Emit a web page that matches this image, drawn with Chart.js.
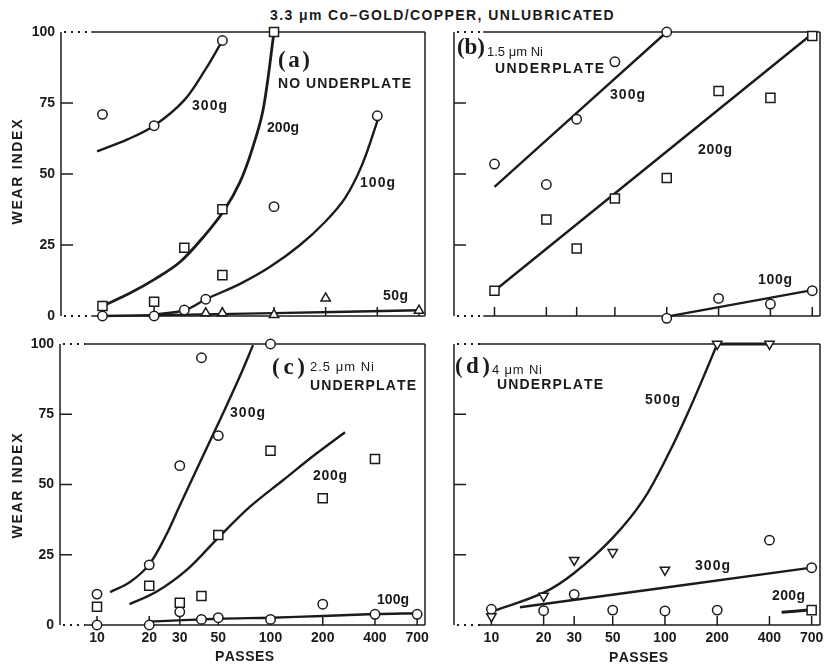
<!DOCTYPE html>
<html>
<head>
<meta charset="utf-8">
<script src="https://cdn.jsdelivr.net/npm/chart.js@4.4.1/dist/chart.umd.min.js"></script>
<style>
  html, body { margin: 0; padding: 0; background: #fff; }
  #wrap { position: relative; width: 833px; height: 665px; overflow: hidden; background: #fff; }
  #wrap canvas { position: absolute; }
  #title {
    position: absolute; left: 270px; top: 7px; white-space: nowrap;
    font: bold 14px 'Liberation Sans', Arial, sans-serif; letter-spacing: 1.4px; color: #1a1a1a;
  }
</style>
</head>
<body>
<div id="wrap">
  <div id="title">3.3 μm Co–GOLD/COPPER, UNLUBRICATED</div>
  <canvas id="pa" width="440" height="330" style="left:0;top:0"></canvas>
  <canvas id="pb" width="393" height="330" style="left:440px;top:0"></canvas>
  <canvas id="pc" width="440" height="335" style="left:0;top:330px"></canvas>
  <canvas id="pd" width="393" height="335" style="left:440px;top:330px"></canvas>
</div>
<script>
// ---- axis ticks ----
const passTicks = [10, 20, 30, 50, 100, 200, 400, 700];
const wearTicks = [0, 25, 50, 75, 100];

// ---- (a) no underplate ----
const aPass300 = [10, 20, 50];
const aWear300 = [71, 67, 97];
const aFitPass300 = [9.3, 14, 20, 30, 40, 50];
const aFitWear300 = [58, 62.2, 67, 76, 87, 97];

const aPass200 = [10, 20, 30, 50, 50, 100];
const aWear200 = [3.5, 5, 24, 37.6, 14.4, 100];
const aFitPass200 = [10, 14.5, 20.2, 28.3, 39.6, 51.8, 63.4, 74.4, 86.3, 100];
const aFitWear200 = [3.5, 8.1, 13, 19, 28.5, 37.7, 47.2, 58.5, 72.5, 100];

const aPass100 = [10, 20, 30, 40, 100, 400];
const aWear100 = [0, 0, 2.1, 5.9, 38.5, 70.5];
const aFitPass100 = [19.5, 30.3, 40.1, 63.4, 94.9, 141.8, 198.3, 259.4, 326, 409.6];
const aFitWear100 = [0.5, 2.1, 5.9, 11.3, 17.3, 25, 33.1, 41.5, 53.2, 70.4];

const aPass50 = [40, 50, 100, 200, 700];
const aWear50 = [1, 1, 0.4, 6.2, 1.9];
const aFitPass50 = [10, 100, 700];
const aFitWear50 = [0, 1, 2];

// ---- (b) 1.5 um Ni ----
const bPass300 = [10, 20, 30, 50, 100];
const bWear300 = [53.5, 46.3, 69.3, 89.5, 100];
const bFitPass300 = [10, 100];
const bFitWear300 = [45.5, 100];

const bPass200 = [10, 20, 30, 50, 100, 200, 400, 700];
const bWear200 = [8.9, 34, 23.8, 41.4, 48.6, 79.2, 76.8, 98.6];
const bFitPass200 = [10, 700];
const bFitWear200 = [8.9, 99.4];

const bPass100 = [100, 200, 400, 700];
const bWear100 = [-0.8, 6.2, 4.2, 8.9];
const bFitPass100 = [100, 700];
const bFitWear100 = [-0.2, 9.1];

// ---- (c) 2.5 um Ni ----
const cPass300 = [10, 20, 30, 40, 50, 100];
const cWear300 = [11, 21.4, 56.7, 95.1, 67.4, 100];
const cFitPass300 = [11.9, 15.5, 19.9, 24.7, 30.1, 36.7, 44.8, 54.7, 66.7, 79.3];
const cFitWear300 = [11.7, 15.3, 21.4, 31.3, 42.7, 54.1, 65.5, 76.9, 88.6, 99.6];

const cPass200 = [10, 20, 30, 40, 50, 100, 200, 400];
const cWear200 = [6.5, 14, 7.9, 10.3, 32, 62, 45.1, 59.1];
const cFitPass200 = [15.4, 22, 32.9, 49, 76.2, 118.5, 184.6, 268.7];
const cFitWear200 = [7.4, 11.8, 19.6, 30.5, 42.1, 51.6, 61.1, 68.6];

const cPass100 = [10, 20, 30, 40, 50, 100, 200, 400, 700];
const cWear100 = [0, 0, 4.7, 2, 2.6, 2, 7.4, 3.8, 3.8];
const cFitPass100 = [20, 50, 100, 200, 400, 700];
const cFitWear100 = [1.2, 2.2, 2.6, 3.2, 3.9, 4.2];

// ---- (d) 4 um Ni ----
const dPass500 = [10, 20, 30, 50, 100, 200, 400];
const dWear500 = [3, 10.3, 23.1, 25.9, 19.6, 100, 100];
const dFitPass500 = [10, 20, 30, 50, 75, 107, 139, 174, 200];
const dFitWear500 = [4.7, 11.5, 18.5, 31, 44.5, 62, 77, 91, 100];
const dTopPass500 = [200, 400];
const dTopWear500 = [100, 100];

const dPass300 = [10, 20, 30, 50, 100, 200, 400, 700];
const dWear300 = [5.6, 5.1, 10.9, 5.3, 5, 5.3, 30.2, 20.4];
const dFitPass300 = [14.6, 700];
const dFitWear300 = [6.3, 20.4];

const dPass200 = [700];
const dWear200 = [5.3];
const dFitPass200 = [470, 670];
const dFitWear200 = [4.5, 5.3];

// ---- styling ----
const INK = '#1b1b1b';
const SANS = "'Liberation Sans', Arial, sans-serif";
const SERIF = "'Liberation Serif', 'DejaVu Serif', serif";
const F_LAB = 'bold 14px ' + SANS;
const F_SUB = '13px ' + SANS;
const F_TAG = 'bold 23px ' + SERIF;
const F_AX = 'bold 14px ' + SANS;

const toPts = (xs, ys) => xs.map((x, i) => ({ x, y: ys[i] }));

function marks(xs, ys, style, rot) {
  const r = style === 'rect' ? 6.4 : style === 'triangle' ? 5.4 : 4.7;
  return {
    data: toPts(xs, ys), showLine: false, pointStyle: style, rotation: rot || 0,
    pointRadius: r, pointBorderWidth: 1.5, pointBorderColor: INK,
    pointBackgroundColor: '#fff', clip: false, order: 0
  };
}
function fit(xs, ys, w) {
  return {
    data: toPts(xs, ys), showLine: true, pointRadius: 0, borderColor: INK,
    borderWidth: w || 2.4, tension: 0.35, clip: false, order: 1
  };
}

// text helper: spreads a string over a given width
function spreadText(ctx, s, x, y, w, font) {
  ctx.font = font;
  const chars = [...s];
  const total = ctx.measureText(s).width;
  const gap = chars.length > 1 ? (w - total) / (chars.length - 1) : 0;
  let cx = x;
  for (const ch of chars) {
    ctx.fillText(ch, cx, y);
    cx += ctx.measureText(ch).width + gap;
  }
}

// frame, inward ticks and panel captions
const framePlugin = {
  id: 'frame',
  beforeDatasetsDraw(chart, args, o) {
    const { ctx, chartArea: { left, top, right, bottom }, scales: { x, y } } = chart;
    const seg = (x1, y1, x2, y2) => { ctx.beginPath(); ctx.moveTo(x1, y1); ctx.lineTo(x2, y2); ctx.stroke(); };
    ctx.save();
    ctx.strokeStyle = INK;
    ctx.lineWidth = 1.5;
    const xd = x.getPixelForValue(o.dotTo);
    seg(left, top, left, bottom);
    seg(right, top, right, bottom);
    seg(xd, top, right, top);
    seg(xd, bottom, right, bottom);
    ctx.setLineDash([2, 5]);
    ctx.lineWidth = 2;
    seg(left + 3, top, xd, top);
    seg(left + 3, bottom, xd, bottom);
    ctx.setLineDash([]);
    ctx.lineWidth = 1.5;
    passTicks.forEach(v => { const px = x.getPixelForValue(v); seg(px, bottom, px, bottom - 9); });
    wearTicks.slice(1, -1).forEach(v => { const py = y.getPixelForValue(v); seg(left, py, left + 12, py); });
    ctx.restore();
  },
  afterDraw(chart, args, o) {
    const ctx = chart.ctx;
    const [ox, oy] = o.offset;
    ctx.save();
    ctx.fillStyle = INK;
    ctx.textBaseline = 'middle';
    ctx.textAlign = 'left';
    for (const t of o.texts) {
      const font = t.f || F_LAB;
      if (t.rot) {
        ctx.save();
        ctx.translate(t.x - ox, t.y - oy);
        ctx.rotate(-Math.PI / 2);
        spreadText(ctx, t.t, -t.w / 2, 0, t.w, font);
        ctx.restore();
      } else {
        const lx = t.c ? t.x - t.w / 2 : t.x;
        spreadText(ctx, t.t, lx - ox, t.y - oy, t.w, font);
      }
    }
    ctx.restore();
  }
};

function panel(id, box, area, xr, showX, showY, datasets, texts) {
  const [bl, bt, bw, bh] = box;
  const [al, at, ar, ab] = area;
  return new Chart(document.getElementById(id), {
    type: 'scatter',
    data: { datasets },
    options: {
      responsive: false, animation: false, events: [],
      layout: { padding: { left: 0, top: at - bt, right: bl + bw - ar, bottom: 0 } },
      scales: {
        x: {
          type: 'logarithmic', min: xr[0], max: xr[1], position: 'bottom',
          grid: { display: false, drawTicks: false }, border: { display: false },
          afterBuildTicks: s => { s.ticks = passTicks.map(v => ({ value: v })); },
          afterFit: s => { s.height = bt + bh - ab; s.paddingLeft = 0; s.paddingRight = 0; },
          ticks: {
            display: showX, autoSkip: false, maxRotation: 0, minRotation: 0, padding: 5,
            color: INK, font: { family: SANS, size: 14, weight: 'bold' },
            callback: v => String(v)
          }
        },
        y: {
          min: 0, max: 100, position: 'left',
          grid: { display: false, drawTicks: false }, border: { display: false },
          afterBuildTicks: s => { s.ticks = wearTicks.map(v => ({ value: v })); },
          afterFit: s => { s.width = al - bl; s.paddingTop = 0; s.paddingBottom = 0; },
          ticks: {
            display: showY, padding: 6, color: INK,
            font: { family: SANS, size: 14, weight: 'bold' }
          }
        }
      },
      plugins: {
        legend: { display: false }, tooltip: { enabled: false },
        frame: { dotTo: 8.6, offset: [bl, bt], texts }
      }
    },
    plugins: [framePlugin]
  });
}

panel('pa', [0, 0, 440, 330], [61, 32, 425, 316], [5.73, 759], false, true, [
  marks(aPass300, aWear300, 'circle'),
  marks(aPass200, aWear200, 'rect'),
  marks(aPass100, aWear100, 'circle'),
  marks(aPass50, aWear50, 'triangle'),
  fit(aFitPass300, aFitWear300),
  fit(aFitPass200, aFitWear200, 2.8),
  fit(aFitPass100, aFitWear100),
  fit(aFitPass50, aFitWear50)
], [
  { t: 'WEAR INDEX', x: 18, y: 172, w: 105, f: F_AX, rot: true },
  { t: '(a)', x: 278, y: 61, w: 32, f: F_TAG },
  { t: 'NO UNDERPLATE', x: 278, y: 84, w: 132 },
  { t: '300g', x: 192, y: 106, w: 35 },
  { t: '200g', x: 267, y: 128, w: 32 },
  { t: '100g', x: 360, y: 183, w: 35 },
  { t: '50g', x: 383, y: 296, w: 25 }
]);

panel('pb', [440, 0, 393, 330], [454, 32, 820, 316], [5.82, 776], false, false, [
  marks(bPass300, bWear300, 'circle'),
  marks(bPass200, bWear200, 'rect'),
  marks(bPass100, bWear100, 'circle'),
  fit(bFitPass300, bFitWear300),
  fit(bFitPass200, bFitWear200),
  fit(bFitPass100, bFitWear100)
], [
  { t: '(b)', x: 457, y: 48, w: 28, f: F_TAG },
  { t: '1.5 μm Ni', x: 487, y: 52, w: 56, f: F_SUB },
  { t: 'UNDERPLATE', x: 495, y: 69, w: 108 },
  { t: '300g', x: 610, y: 95, w: 35 },
  { t: '200g', x: 698, y: 150, w: 34 },
  { t: '100g', x: 758, y: 280, w: 34 }
]);

panel('pc', [0, 330, 440, 335], [60, 344, 425, 625], [6.12, 777], true, true, [
  marks(cPass300, cWear300, 'circle'),
  marks(cPass200, cWear200, 'rect'),
  marks(cPass100, cWear100, 'circle'),
  fit(cFitPass300, cFitWear300),
  fit(cFitPass200, cFitWear200),
  fit(cFitPass100, cFitWear100)
], [
  { t: 'WEAR INDEX', x: 18, y: 486, w: 105, f: F_AX, rot: true },
  { t: '(c)', x: 272, y: 368, w: 33, f: F_TAG },
  { t: '2.5 μm Ni', x: 310, y: 367, w: 64, f: F_SUB },
  { t: 'UNDERPLATE', x: 310, y: 386, w: 105 },
  { t: '300g', x: 230, y: 413, w: 35 },
  { t: '200g', x: 313, y: 476, w: 34 },
  { t: '100g', x: 377, y: 600, w: 32 },
  { t: 'PASSES', x: 244, y: 657, w: 58, f: F_AX, c: true }
]);

panel('pd', [440, 330, 393, 335], [454, 344, 820, 625], [6.09, 782], true, false, [
  marks(dPass500, dWear500, 'triangle', 180),
  marks(dPass300, dWear300, 'circle'),
  marks(dPass200, dWear200, 'rect'),
  fit(dFitPass500, dFitWear500),
  fit(dTopPass500, dTopWear500, 3),
  fit(dFitPass300, dFitWear300),
  fit(dFitPass200, dFitWear200, 3)
], [
  { t: '(d)', x: 455, y: 367, w: 35, f: F_TAG },
  { t: '4 μm Ni', x: 492, y: 370, w: 50, f: F_SUB },
  { t: 'UNDERPLATE', x: 497, y: 385, w: 105 },
  { t: '500g', x: 645, y: 400, w: 35 },
  { t: '300g', x: 695, y: 566, w: 35 },
  { t: '200g', x: 772, y: 596, w: 33 },
  { t: 'PASSES', x: 638, y: 658, w: 58, f: F_AX, c: true }
]);
</script>
</body>
</html>
